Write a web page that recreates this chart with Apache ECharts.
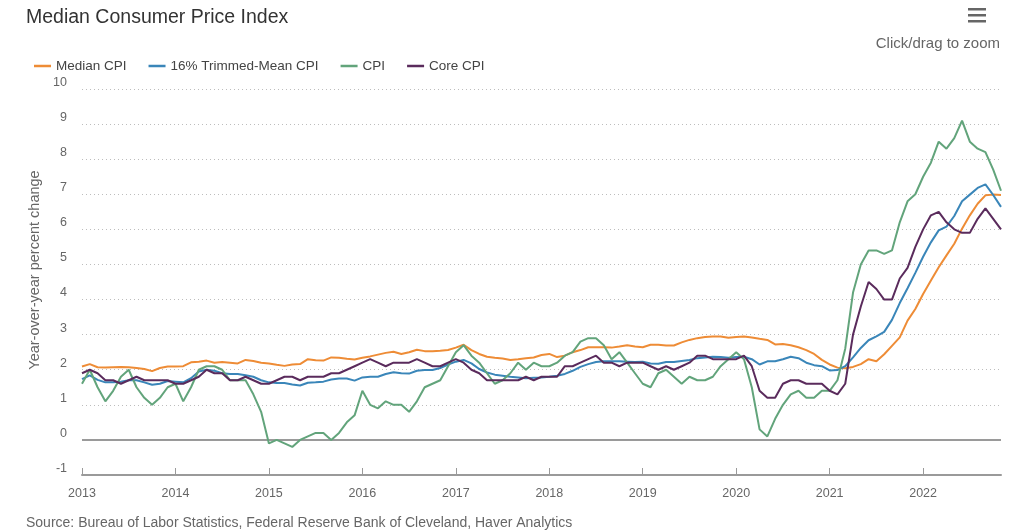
<!DOCTYPE html>
<html>
<head>
<meta charset="utf-8">
<script src="https://cdn.jsdelivr.net/npm/echarts@6/dist/echarts.min.js"></script>
<style>
html,body{margin:0;padding:0;background:#fff;}
#chart{width:1024px;height:531px;}
</style>
</head>
<body>
<div id="chart"></div>
<script>
// Monthly data, Jan 2013 .. Nov 2022 (year-over-year percent change)
const startYear = 2013;
const yearTicks = [2013, 2014, 2015, 2016, 2017, 2018, 2019, 2020, 2021, 2022];
const seriesNames = ['Median CPI', '16% Trimmed-Mean CPI', 'CPI', 'Core CPI'];

const medianCPI = [
  2.09, 2.16, 2.07, 2.06, 2.07, 2.08, 2.07, 2.05, 2.02, 1.96, 2.05, 2.09,
  2.09, 2.10, 2.21, 2.23, 2.26, 2.20, 2.22, 2.20, 2.18, 2.28, 2.25, 2.20,
  2.18, 2.14, 2.11, 2.15, 2.16, 2.30, 2.27, 2.26, 2.35, 2.34, 2.31, 2.29,
  2.34, 2.38, 2.43, 2.48, 2.51, 2.45, 2.50, 2.57, 2.53, 2.53, 2.54, 2.56,
  2.63, 2.71, 2.56, 2.45, 2.37, 2.34, 2.32, 2.28, 2.30, 2.33, 2.35, 2.42,
  2.45, 2.36, 2.40, 2.50, 2.56, 2.64, 2.64, 2.64, 2.63, 2.66, 2.70, 2.66,
  2.64, 2.71, 2.71, 2.69, 2.69, 2.78, 2.85, 2.90, 2.93, 2.95, 2.95, 2.91,
  2.93, 2.95, 2.92, 2.88, 2.85, 2.72, 2.73, 2.70, 2.64, 2.56, 2.45, 2.28,
  2.15, 2.06, 2.04, 2.08, 2.16, 2.30, 2.24, 2.44, 2.68, 2.92, 3.40, 3.73,
  4.16, 4.54, 4.92, 5.26, 5.59, 6.02, 6.40, 6.73, 6.97, 6.99, 6.98
];
const trimmedMeanCPI = [
  1.73, 1.84, 1.71, 1.64, 1.64, 1.66, 1.70, 1.70, 1.64, 1.57, 1.60, 1.68,
  1.66, 1.64, 1.76, 1.95, 2.00, 1.97, 1.90, 1.88, 1.88, 1.84, 1.80, 1.70,
  1.64, 1.62, 1.62, 1.58, 1.55, 1.63, 1.64, 1.66, 1.72, 1.75, 1.75, 1.69,
  1.78, 1.80, 1.80, 1.88, 1.93, 1.90, 1.89, 1.97, 1.99, 1.99, 2.05, 2.15,
  2.23, 2.28, 2.18, 2.02, 1.92, 1.86, 1.83, 1.80, 1.78, 1.76, 1.77, 1.78,
  1.80, 1.83, 1.88, 1.97, 2.08, 2.16, 2.22, 2.24, 2.24, 2.24, 2.23, 2.22,
  2.23, 2.18, 2.17, 2.22, 2.22, 2.25, 2.28, 2.33, 2.35, 2.37, 2.36, 2.34,
  2.36, 2.37, 2.30, 2.15, 2.24, 2.24, 2.30, 2.37, 2.33, 2.20, 2.13, 2.10,
  1.98, 1.99, 2.10, 2.35, 2.62, 2.84, 2.95, 3.08, 3.42, 3.90, 4.32, 4.76,
  5.22, 5.63, 5.97, 6.08, 6.38, 6.80, 6.99, 7.18, 7.28, 6.98, 6.64
];
const cpi = [
  1.6, 2.0, 1.5, 1.1, 1.4, 1.8, 2.0, 1.5, 1.2, 1.0, 1.2, 1.5,
  1.6, 1.1, 1.5, 2.0, 2.1, 2.1, 2.0, 1.7, 1.7, 1.7, 1.3, 0.8,
  -0.1, 0.0, -0.1, -0.2, 0.0, 0.1, 0.2, 0.2, 0.0, 0.2, 0.5, 0.7,
  1.4, 1.0, 0.9, 1.1, 1.0, 1.0, 0.8, 1.1, 1.5, 1.6, 1.7, 2.1,
  2.5, 2.7, 2.4, 2.2, 1.9, 1.6, 1.7, 1.9, 2.2, 2.0, 2.2, 2.1,
  2.1, 2.2, 2.4, 2.5, 2.8, 2.9, 2.9, 2.7, 2.3, 2.5, 2.2, 1.9,
  1.6, 1.5, 1.9, 2.0, 1.8, 1.6, 1.8, 1.7, 1.7, 1.8, 2.1, 2.3,
  2.5, 2.3, 1.5, 0.3, 0.1, 0.6, 1.0, 1.3, 1.4, 1.2, 1.2, 1.4,
  1.4, 1.7, 2.6, 4.2, 5.0, 5.4, 5.4, 5.3, 5.4, 6.2, 6.8, 7.0,
  7.5, 7.9, 8.5, 8.3, 8.6, 9.1, 8.5, 8.3, 8.2, 7.7, 7.1
];
const coreCPI = [
  1.9, 2.0, 1.9, 1.7, 1.7, 1.6, 1.7, 1.8, 1.7, 1.7, 1.7, 1.7,
  1.6, 1.6, 1.7, 1.8, 2.0, 1.9, 1.9, 1.7, 1.7, 1.8, 1.7, 1.6,
  1.6, 1.7, 1.8, 1.8, 1.7, 1.8, 1.8, 1.8, 1.9, 1.9, 2.0, 2.1,
  2.2, 2.3, 2.2, 2.1, 2.2, 2.2, 2.2, 2.3, 2.2, 2.1, 2.1, 2.2,
  2.3, 2.2, 2.0, 1.9, 1.7, 1.7, 1.7, 1.7, 1.7, 1.8, 1.7, 1.8,
  1.8, 1.8, 2.1, 2.1, 2.2, 2.3, 2.4, 2.2, 2.2, 2.1, 2.2, 2.2,
  2.2, 2.1, 2.0, 2.1, 2.0, 2.1, 2.2, 2.4, 2.4, 2.3, 2.3, 2.3,
  2.3, 2.4, 2.1, 1.4, 1.2, 1.2, 1.6, 1.7, 1.7, 1.6, 1.6, 1.6,
  1.4, 1.3, 1.6, 3.0, 3.8, 4.5, 4.3, 4.0, 4.0, 4.6, 4.9, 5.5,
  6.0, 6.4, 6.5, 6.2, 6.0, 5.9, 5.9, 6.3, 6.6, 6.3, 6.0
];

const colors = ['#EE8C36', '#3A86B9', '#62A47B', '#5A2B5C'];
const allSeries = [medianCPI, trimmedMeanCPI, cpi, coreCPI];
const toPoints = arr => arr.map((v, i) => [startYear + i / 12, v]);
const lastX = startYear + (medianCPI.length - 1) / 12;

const chart = echarts.init(document.getElementById('chart'), null, {renderer: 'canvas'});
const font = 'Arial, "Liberation Sans", Helvetica, sans-serif';

const series = allSeries.map((arr, k) => ({
  name: seriesNames[k],
  type: 'line',
  data: toPoints(arr),
  showSymbol: false,
  symbol: 'none',
  smooth: false,
  lineStyle: {width: 2, color: colors[k]},
  itemStyle: {color: colors[k]},
  z: 3 + k,
  animation: false
}));
series[0].markLine = {
  silent: true,
  symbol: 'none',
  label: {show: false},
  lineStyle: {color: '#9a9a9a', width: 2, type: 'solid'},
  data: [{yAxis: 0}],
  animation: false
};

chart.setOption({
  animation: false,
  backgroundColor: '#ffffff',
  textStyle: {fontFamily: font},
  title: {
    text: 'Median Consumer Price Index',
    left: 26, top: 8, padding: 0,
    textStyle: {fontSize: 19.5, fontWeight: 'normal', color: '#333333', fontFamily: font}
  },
  legend: {
    left: 34, top: 59, padding: 0,
    icon: 'rect',
    itemWidth: 17, itemHeight: 2.5,
    itemGap: 22,
    textStyle: {fontSize: 13.5, color: '#444444', fontFamily: font},
    data: seriesNames
  },
  grid: {left: 82, right: 23, top: 89, bottom: 56, containLabel: false},
  xAxis: {
    type: 'value',
    min: startYear,
    max: lastX,
    interval: 1,
    axisLine: {show: true, onZero: false, lineStyle: {color: '#9a9a9a', width: 2}},
    axisTick: {show: true, inside: true, length: 7, lineStyle: {color: '#9a9a9a', width: 1}, customValues: yearTicks},
    axisLabel: {show: true, color: '#666666', fontSize: 12.5, margin: 12, customValues: yearTicks,
      formatter: v => String(Math.round(v))},
    splitLine: {show: false}
  },
  yAxis: {
    type: 'value',
    min: -1, max: 10, interval: 1,
    name: 'Year-over-year percent change',
    nameLocation: 'middle',
    nameGap: 40,
    nameRotate: 90,
    nameTextStyle: {color: '#666666', fontSize: 14.5, fontFamily: font, padding: [0, 0, 0, 24]},
    axisLine: {show: false},
    axisTick: {show: false},
    axisLabel: {color: '#666666', fontSize: 12.5, margin: 15, verticalAlign: 'bottom'},
    splitLine: {show: true, lineStyle: {color: '#bdbdbd', type: [1, 3], width: 1}}
  },
  graphic: [
    {type: 'rect', left: 968, top: 8, shape: {width: 18, height: 2.5}, style: {fill: '#666666'}},
    {type: 'rect', left: 968, top: 14, shape: {width: 18, height: 2.5}, style: {fill: '#666666'}},
    {type: 'rect', left: 968, top: 20, shape: {width: 18, height: 2.5}, style: {fill: '#666666'}},
    {type: 'text', right: 24, top: 36,
      style: {text: 'Click/drag to zoom', fill: '#666666', fontSize: 15, fontFamily: font}},
    {type: 'text', left: 26, top: 516,
      style: {text: 'Source: Bureau of Labor Statistics, Federal Reserve Bank of Cleveland, Haver Analytics',
        fill: '#666666', fontSize: 14, fontFamily: font}}
  ],
  series: series
});
</script>
</body>
</html>
